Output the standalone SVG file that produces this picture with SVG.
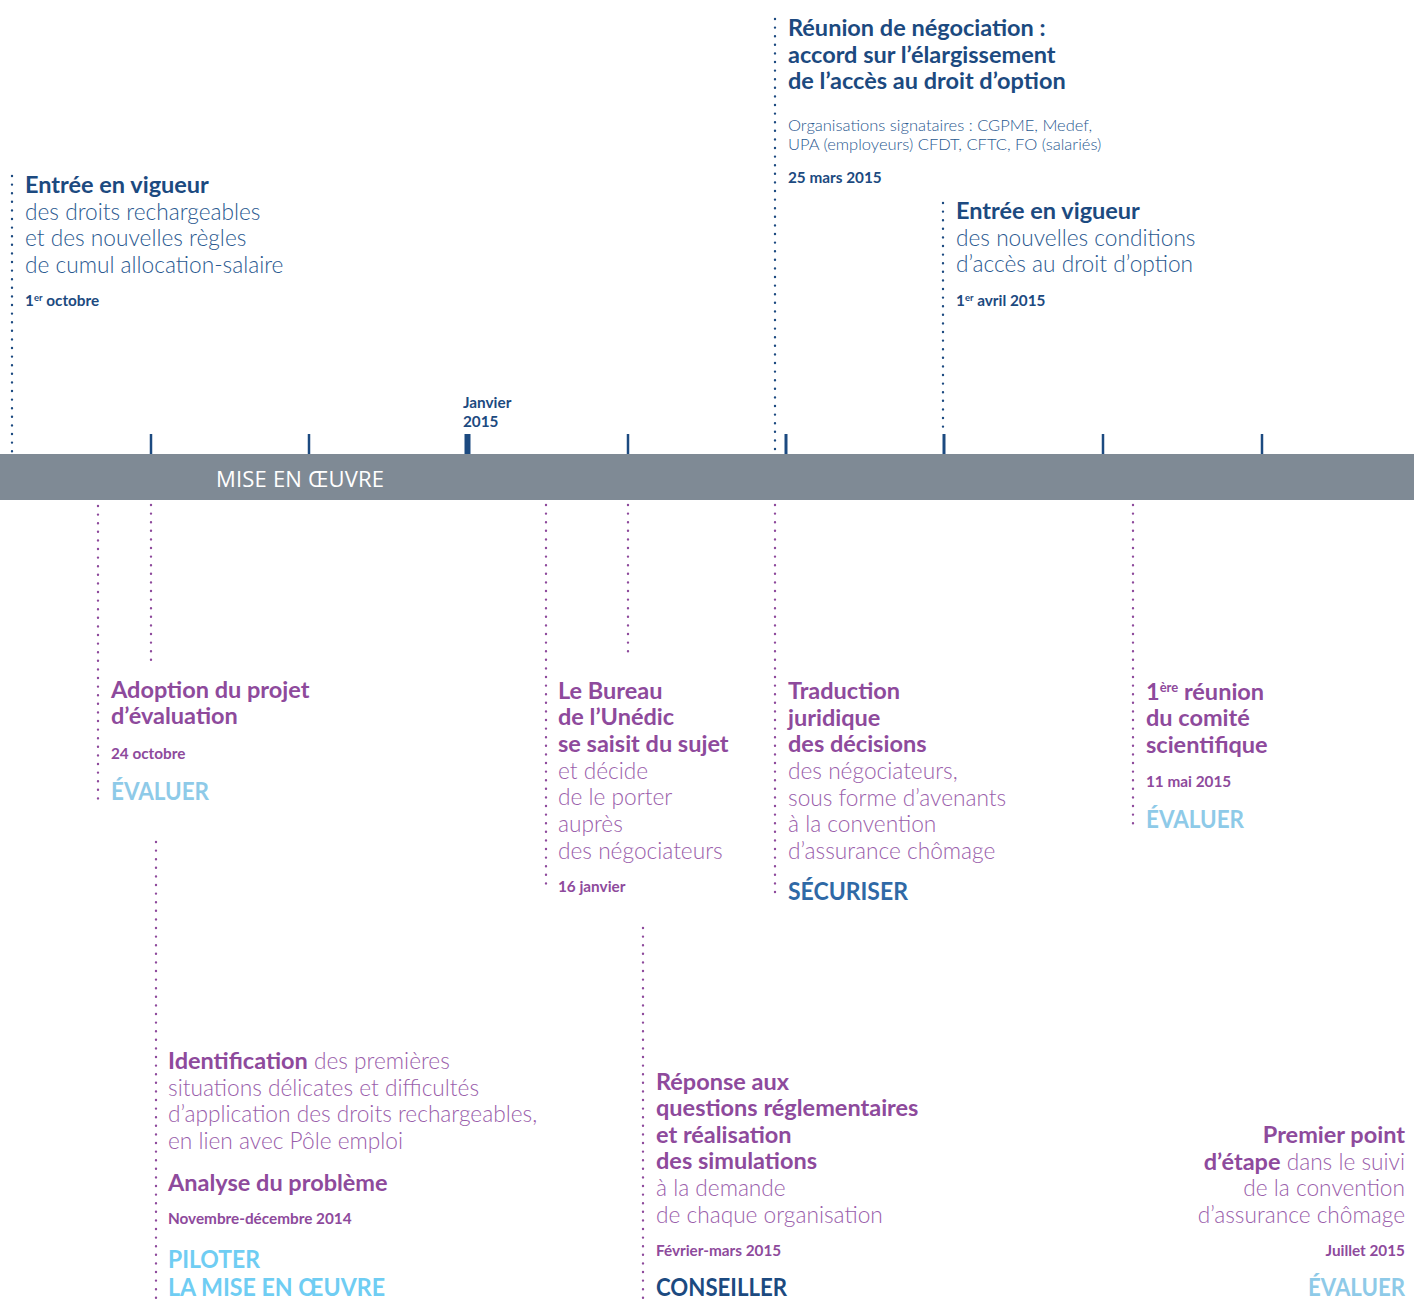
<svg xmlns="http://www.w3.org/2000/svg" width="1414" height="1300" viewBox="0 0 1414 1300">
<style>
text{font-family:Lato,"Open Sans","Liberation Sans",sans-serif}
.b{fill:#1c4a80;font-weight:bold;font-size:23.5px}
.bl{fill:#2a5990;font-weight:300;font-size:22.7px}
.bs{fill:#1c4a80;font-weight:bold;font-size:15.3px}
.bm{fill:#2a5990;font-weight:300;font-size:16.5px}
.p{fill:#8e4a9c;font-weight:bold;font-size:23.5px}
.pl{fill:#9a5eab;font-weight:300;font-size:22.7px}
.ps{fill:#8e4a9c;font-weight:bold;font-size:15.3px}
.ev{fill:#8ecae8;font-weight:bold;font-size:24px}
.pil{fill:#6fcdf3;font-weight:bold;font-size:24px}
.sec{fill:#2f69a6;font-weight:bold;font-size:24px}
.con{fill:#1c4a80;font-weight:bold;font-size:24px}
.dtb{stroke:#1c4a80;stroke-width:2.4;stroke-linecap:round;stroke-dasharray:0 8.6;fill:none}
.dtp{stroke:#8e4a9c;stroke-width:2.4;stroke-linecap:round;stroke-dasharray:0 8.6;fill:none}
.tk{stroke:#1c4a80;stroke-width:2.5}
</style>
<rect x="0" y="454" width="1414" height="46" fill="#7f8a95"/>
<text x="216" y="487" fill="#ffffff" font-size="22" style="font-family:'Liberation Sans Narrow','Open Sans',Lato,sans-serif" textLength="168">MISE EN ŒUVRE</text>
<g id="ticks">
<line class="tk" x1="151" y1="434" x2="151" y2="454"/>
<line class="tk" x1="309" y1="434" x2="309" y2="454"/>
<line class="tk" x1="467.5" y1="434" x2="467.5" y2="454" style="stroke-width:6"/>
<line class="tk" x1="628" y1="434" x2="628" y2="454"/>
<line class="tk" x1="786" y1="434" x2="786" y2="454" style="stroke-width:3"/>
<line class="tk" x1="944" y1="434" x2="944" y2="454" style="stroke-width:3"/>
<line class="tk" x1="1103" y1="434" x2="1103" y2="454"/>
<line class="tk" x1="1262" y1="434" x2="1262" y2="454"/>
<text class="bs" x="463" y="408">Janvier</text>
<text class="bs" x="463" y="427">2015</text>
</g>
<g id="connectors">
<line class="dtb" x1="12" y1="176" x2="12" y2="452"/>
<line class="dtb" x1="775" y1="19" x2="775" y2="452"/>
<line class="dtb" x1="943" y1="203" x2="943" y2="430"/>
<line class="dtp" x1="98" y1="506" x2="98" y2="800"/>
<line class="dtp" x1="151" y1="505" x2="151" y2="668"/>
<line class="dtp" x1="546" y1="505" x2="546" y2="890"/>
<line class="dtp" x1="628" y1="505" x2="628" y2="655"/>
<line class="dtp" x1="775" y1="505" x2="775" y2="900"/>
<line class="dtp" x1="1133" y1="505" x2="1133" y2="828"/>
<line class="dtp" x1="156" y1="842" x2="156" y2="1300"/>
<line class="dtp" x1="643" y1="928" x2="643" y2="1300"/>
</g>
<g id="n-entree1">
<text class="b" x="25" y="193">Entrée en vigueur</text>
<text class="bl" x="25" y="220">des droits rechargeables</text>
<text class="bl" x="25" y="246">et des nouvelles règles</text>
<text class="bl" x="25" y="273">de cumul allocation-salaire</text>
<text class="bs" x="25" y="306">1<tspan font-size="9.5" dy="-5">er</tspan><tspan dy="5"> octobre</tspan></text>
</g>
<g id="n-reunion">
<text class="b" x="788" y="36">Réunion de négociation :</text>
<text class="b" x="788" y="63">accord sur l’élargissement</text>
<text class="b" x="788" y="89">de l’accès au droit d’option</text>
<text class="bm" x="788" y="131">Organisations signataires : CGPME, Medef,</text>
<text class="bm" x="788" y="149.5">UPA (employeurs) CFDT, CFTC, FO (salariés)</text>
<text class="bs" x="788" y="183">25 mars 2015</text>
</g>
<g id="n-entree2">
<text class="b" x="956" y="219">Entrée en vigueur</text>
<text class="bl" x="956" y="246">des nouvelles conditions</text>
<text class="bl" x="956" y="272">d’accès au droit d’option</text>
<text class="bs" x="956" y="306">1<tspan font-size="9.5" dy="-5">er</tspan><tspan dy="5"> avril 2015</tspan></text>
</g>
<g id="n-adoption">
<text class="p" x="111" y="698">Adoption du projet</text>
<text class="p" x="111" y="724">d’évaluation</text>
<text class="ps" x="111" y="759">24 octobre</text>
<text class="ev" x="111" y="800" textLength="98" lengthAdjust="spacingAndGlyphs">ÉVALUER</text>
</g>
<g id="n-bureau">
<text class="p" x="558" y="699">Le Bureau</text>
<text class="p" x="558" y="725">de l’Unédic</text>
<text class="p" x="558" y="752">se saisit du sujet</text>
<text class="pl" x="558" y="779">et décide</text>
<text class="pl" x="558" y="805">de le porter</text>
<text class="pl" x="558" y="832">auprès</text>
<text class="pl" x="558" y="859">des négociateurs</text>
<text class="ps" x="558" y="892">16 janvier</text>
</g>
<g id="n-traduction">
<text class="p" x="788" y="699">Traduction</text>
<text class="p" x="788" y="726">juridique</text>
<text class="p" x="788" y="752">des décisions</text>
<text class="pl" x="788" y="779">des négociateurs,</text>
<text class="pl" x="788" y="806">sous forme d’avenants</text>
<text class="pl" x="788" y="832">à la convention</text>
<text class="pl" x="788" y="859">d’assurance chômage</text>
<text class="sec" x="788" y="900" textLength="120" lengthAdjust="spacingAndGlyphs">SÉCURISER</text>
</g>
<g id="n-comite">
<text class="p" x="1146" y="700">1<tspan font-size="13" dy="-8">ère</tspan><tspan dy="8"> réunion</tspan></text>
<text class="p" x="1146" y="726">du comité</text>
<text class="p" x="1146" y="753">scientifique</text>
<text class="ps" x="1146" y="787">11 mai 2015</text>
<text class="ev" x="1146" y="828" textLength="98" lengthAdjust="spacingAndGlyphs">ÉVALUER</text>
</g>
<g id="n-identification">
<text class="pl" x="168" y="1069"><tspan class="p" style="font-weight:bold">Identification</tspan> des premières</text>
<text class="pl" x="168" y="1096">situations délicates et difficultés</text>
<text class="pl" x="168" y="1122">d’application des droits rechargeables,</text>
<text class="pl" x="168" y="1149">en lien avec Pôle emploi</text>
<text class="p" x="168" y="1191">Analyse du problème</text>
<text class="ps" x="168" y="1224">Novembre-décembre 2014</text>
<text class="pil" x="168" y="1268" textLength="92" lengthAdjust="spacingAndGlyphs">PILOTER</text>
<text class="pil" x="168" y="1296" textLength="217" lengthAdjust="spacingAndGlyphs">LA MISE EN ŒUVRE</text>
</g>
<g id="n-reponse">
<text class="p" x="656" y="1090">Réponse aux</text>
<text class="p" x="656" y="1116">questions réglementaires</text>
<text class="p" x="656" y="1143">et réalisation</text>
<text class="p" x="656" y="1169">des simulations</text>
<text class="pl" x="656" y="1196">à la demande</text>
<text class="pl" x="656" y="1223">de chaque organisation</text>
<text class="ps" x="656" y="1256">Février-mars 2015</text>
<text class="con" x="656" y="1296" textLength="131" lengthAdjust="spacingAndGlyphs">CONSEILLER</text>
</g>
<g id="n-premier" text-anchor="end">
<text class="p" x="1405" y="1143">Premier point</text>
<text class="pl" x="1405" y="1170"><tspan class="p" style="font-weight:bold">d’étape</tspan> dans le suivi</text>
<text class="pl" x="1405" y="1196">de la convention</text>
<text class="pl" x="1405" y="1223">d’assurance chômage</text>
<text class="ps" x="1405" y="1256">Juillet 2015</text>
<text class="ev" x="1405" y="1296" textLength="97" lengthAdjust="spacingAndGlyphs">ÉVALUER</text>
</g>
</svg>
